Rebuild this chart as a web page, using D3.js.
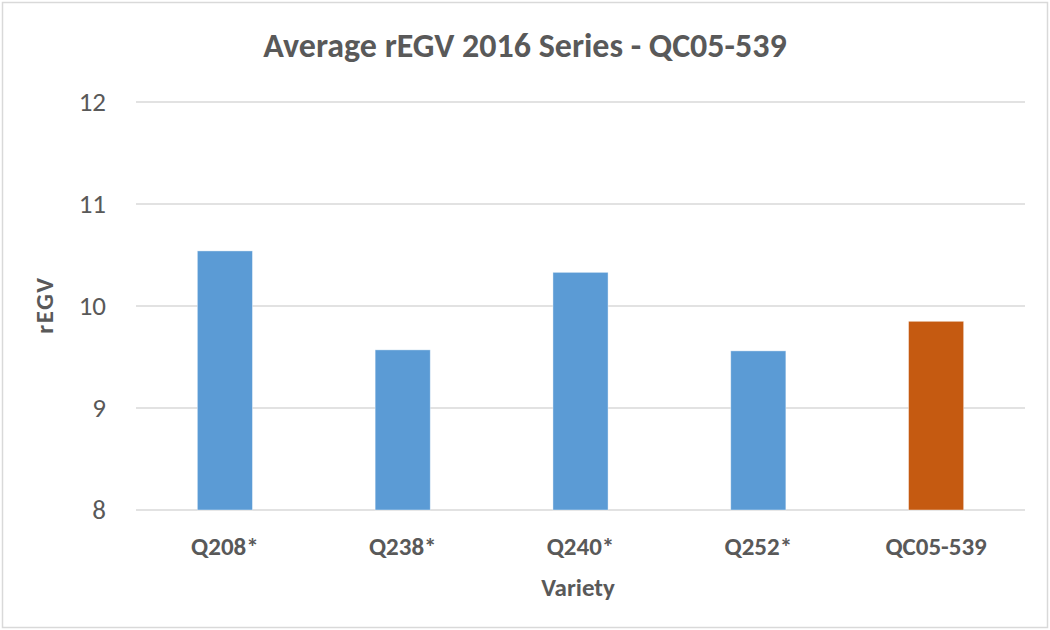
<!DOCTYPE html>
<html>
<head>
<meta charset="utf-8">
<script src="https://cdn.jsdelivr.net/npm/d3@7"></script>
<style>
  body { margin: 0; background: #fff; }
  text { font-family: Carlito, Lato, "Open Sans", sans-serif; fill: #595959; }
</style>
</head>
<body>
<svg id="chart" width="1050" height="630"></svg>
<script>
// data
var varieties = ["Q208*", "Q238*", "Q240*", "Q252*", "QC05-539"];
var regv = [10.54, 9.57, 10.33, 9.56, 9.85];
var barColors = ["#5B9BD5", "#5B9BD5", "#5B9BD5", "#5B9BD5", "#C55A11"];
var yTicks = [8, 9, 10, 11, 12];

var svg = d3.select("#chart");
var margin = {left: 136, right: 25, top: 102, bottom: 120};
var width = 1050, height = 630;

// outer border
svg.append("rect").attr("x", 2.5).attr("y", 2.5).attr("width", width - 5).attr("height", height - 5)
    .attr("fill", "#fff").attr("stroke", "#d9d9d9").attr("stroke-width", 1.5);

var x = d3.scaleBand().domain(varieties).range([margin.left, width - margin.right]).padding(0);
var y = d3.scaleLinear().domain([8, 12]).range([height - margin.bottom, margin.top]);

// gridlines
svg.append("g").selectAll("line").data(yTicks).enter().append("line")
    .attr("x1", margin.left).attr("x2", width - margin.right)
    .attr("y1", function(d) { return y(d); }).attr("y2", function(d) { return y(d); })
    .attr("stroke", "#d9d9d9").attr("stroke-width", 1.5);

// y tick labels
var yAxis = svg.append("g").attr("transform", "translate(106,0)")
    .call(d3.axisLeft(y).tickValues(yTicks).tickFormat(d3.format("d")).tickSize(0).tickPadding(0));
yAxis.select(".domain").remove();
yAxis.selectAll("text").attr("font-size", 27).style("font-family", "Carlito, Lato, sans-serif").attr("fill", "#595959");

// bars
var barW = x.bandwidth() * 0.31;
svg.append("g").selectAll("rect").data(regv).enter().append("rect")
    .attr("x", function(d, i) { return x(varieties[i]) + (x.bandwidth() - barW) / 2; })
    .attr("y", function(d) { return y(d); })
    .attr("width", barW)
    .attr("height", function(d) { return y(8) - y(d); })
    .attr("fill", function(d, i) { return barColors[i]; })
    .attr("stroke", "#fff").attr("stroke-opacity", 0.5).attr("stroke-width", 0.8);

// x labels
var xAxis = svg.append("g").attr("transform", "translate(0," + y(8) + ")")
    .call(d3.axisBottom(x).tickSize(0).tickPadding(0));
xAxis.select(".domain").remove();
xAxis.selectAll("text").attr("dy", null).attr("y", 45).attr("font-size", 25).attr("font-weight", "bold")
    .style("font-family", "Carlito, Lato, sans-serif").attr("fill", "#595959");

// titles
svg.append("text").attr("x", 525).attr("y", 57).attr("text-anchor", "middle")
    .attr("font-size", 34).attr("font-weight", "bold").text("Average rEGV 2016 Series - QC05-539");

svg.append("text").attr("x", 578).attr("y", 596).attr("text-anchor", "middle")
    .attr("font-size", 25).attr("font-weight", "bold").text("Variety");

svg.append("text").attr("transform", "translate(53,305) rotate(-90)").attr("text-anchor", "middle")
    .attr("font-size", 25).attr("font-weight", "bold").attr("letter-spacing", 1.5).text("rEGV");
</script>
</body>
</html>
